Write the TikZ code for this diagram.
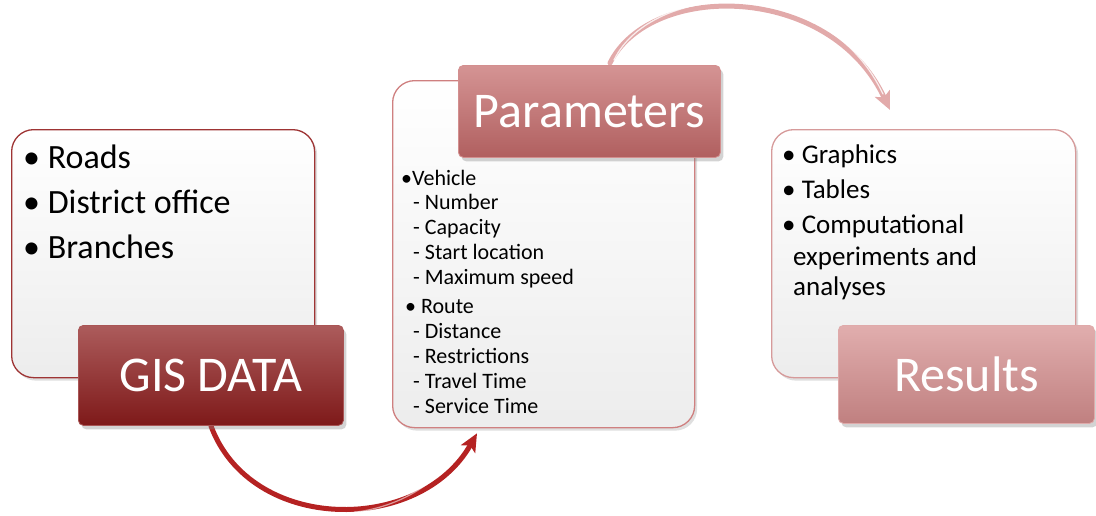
\documentclass[tikz,border=0pt]{standalone}
\usepackage{fontspec}
\setmainfont{Carlito}
\usetikzlibrary{shadows,arrows.meta,calc,backgrounds}

\definecolor{gisred}{HTML}{8C1C1C}
\definecolor{parred}{HTML}{C46A6A}
\definecolor{resred}{HTML}{D58E8E}
\definecolor{gisedge}{HTML}{9E3434}
\definecolor{paredge}{HTML}{CF8080}
\definecolor{resedge}{HTML}{D69A9A}
\definecolor{boxfill}{HTML}{F6F6F6}
\definecolor{arrowdark}{HTML}{B52222}
\definecolor{arrowpale}{HTML}{E2AAAA}

\tikzset{
  panel/.style={draw=#1, line width=1.3pt, rounded corners=22pt,
    top color=white, bottom color=boxfill!92!gray, anchor=north west,
    inner sep=0pt,
    drop shadow={shadow xshift=2.5pt, shadow yshift=-3pt, opacity=.25}},
  tab/.style={draw=#1!75!white, line width=.8pt, rounded corners=5pt,
    top color=#1!72!white, middle color=#1!97!white, bottom color=#1!90!black,
    anchor=north west, inner sep=0pt, text=white,
    font=\fontsize{50}{52}\selectfont,
    drop shadow={shadow xshift=3pt, shadow yshift=-4pt, opacity=.35}},
  lineA/.style={anchor=base west, inner sep=0pt, font=\fontsize{34}{40}\selectfont},
  lineB/.style={anchor=base west, inner sep=0pt, font=\fontsize{22}{25}\selectfont},
  lineC/.style={anchor=base west, inner sep=0pt, font=\fontsize{27}{31}\selectfont},
  bend/.style={line width=5pt, draw=#1, line cap=round,
    -{Stealth[length=18pt, width=16pt, inset=4pt]}},
  gloss/.style={line width=1.2pt, draw=white, opacity=.55, line cap=round},
}

\begin{document}
\begin{tikzpicture}[x=1pt, y=-1pt]
\useasboundingbox (0,0) rectangle (1096,515);

% content panels
\node[panel=gisedge, minimum width=303pt, minimum height=248pt] (gisbox) at (11,129) {};
\node[panel=paredge, minimum width=302pt, minimum height=347pt] (parbox) at (392,80) {};
\node[panel=resedge, minimum width=304pt, minimum height=248pt] (resbox) at (771,129) {};

% GIS data list
\node[lineA] (g1) at (23,168) {\textbullet\ Roads};
\node[lineA] (g2) at (23,213) {\textbullet\ District office};
\node[lineA] (g3) at (23,258) {\textbullet\ Branches};

% parameter list
\node[lineB] (p1) at (401,185) {\textbullet Vehicle};
\node[lineB] (p2) at (413,209) {- Number};
\node[lineB] (p3) at (413,234) {- Capacity};
\node[lineB] (p4) at (413,259) {- Start location};
\node[lineB] (p5) at (413,284) {- Maximum speed};
\node[lineB] (p6) at (405,313) {\textbullet\ Route};
\node[lineB] (p7) at (413,338) {- Distance};
\node[lineB] (p8) at (413,363) {- Restrictions};
\node[lineB] (p9) at (413,388) {- Travel Time};
\node[lineB] (p10) at (413,413) {- Service Time};

% result list
\node[lineC] (r1) at (782,163) {\textbullet\ Graphics};
\node[lineC] (r2) at (782,198) {\textbullet\ Tables};
\node[lineC] (r3) at (782,233) {\textbullet\ Computational};
\node[lineC] (r4) at (793,265) {experiments and};
\node[lineC] (r5) at (793,295) {analyses};

% title tabs
\node[tab=gisred, minimum width=265pt, minimum height=100pt] (gis) at (78,325) {GIS DATA};
\node[tab=parred, minimum width=262pt, minimum height=92pt] (par) at (458,65) {Parameters};
\node[tab=resred, minimum width=256pt, minimum height=98pt] (res) at (838,325) {Results};

% curved connectors behind the panels
\coordinate (e1) at ($(parbox.south west)+(85,5)$);
\coordinate (s2) at ($(par.north west)+(152,-2)$);
\coordinate (e2) at ($(resbox.north west)+(119,-19)$);
\begin{scope}[on background layer]
  \draw[bend=arrowdark] (gis.south) .. controls +(40,108) and +(-57,101) .. (e1);
  \draw[gloss] ($(gis.south)+(-4,6)$) .. controls +(34,100) and +(-60,96) .. ($(e1)+(-16,14)$);
  \draw[bend=arrowpale] (s2) .. controls +(40,-81) and +(-60,-128) .. (e2);
  \draw[gloss, opacity=.8] ($(s2)+(4,-3)$) .. controls +(38,-78) and +(-58,-122) .. ($(e2)+(-7,-16)$);
\end{scope}
\end{tikzpicture}
\end{document}
